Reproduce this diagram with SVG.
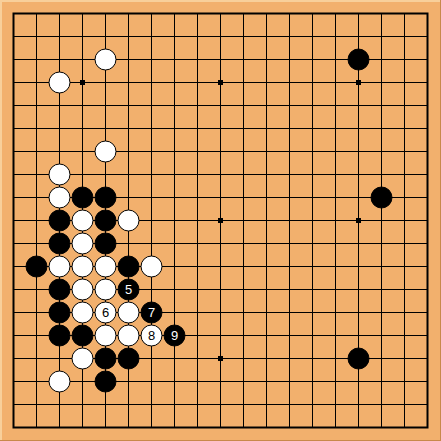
<svg xmlns="http://www.w3.org/2000/svg" width="441" height="441" viewBox="0 0 441 441">
<style>
.g{stroke:#000;stroke-width:1;fill:none}
.b{fill:#000;stroke:#000;stroke-width:1}
.w{fill:#fff;stroke:#000;stroke-width:1}
.tb{fill:#fff;font-family:"Liberation Sans",Arial,sans-serif;font-size:13px;text-anchor:middle}
.tw{fill:#000;font-family:"Liberation Sans",Arial,sans-serif;font-size:13px;text-anchor:middle}
</style>
<rect x="0" y="0" width="441" height="441" fill="#F2B06D"/>
<path d="M0,0H441V441H0Z" fill="none" stroke="#C8884A" stroke-width="2"/>
<path d="M1,440V1H440" fill="none" stroke="#F8CF9A" stroke-width="2"/>
<g id="grid">
<path class="g" d="M13.5,36.5H427.5M13.5,59.5H427.5M13.5,82.5H427.5M13.5,105.5H427.5M13.5,128.5H427.5M13.5,151.5H427.5M13.5,174.5H427.5M13.5,197.5H427.5M13.5,220.5H427.5M13.5,243.5H427.5M13.5,266.5H427.5M13.5,289.5H427.5M13.5,312.5H427.5M13.5,335.5H427.5M13.5,358.5H427.5M13.5,381.5H427.5M13.5,404.5H427.5"/>
<path class="g" d="M36.5,13.5V427.5M59.5,13.5V427.5M82.5,13.5V427.5M105.5,13.5V427.5M128.5,13.5V427.5M151.5,13.5V427.5M174.5,13.5V427.5M197.5,13.5V427.5M220.5,13.5V427.5M243.5,13.5V427.5M266.5,13.5V427.5M289.5,13.5V427.5M312.5,13.5V427.5M335.5,13.5V427.5M358.5,13.5V427.5M381.5,13.5V427.5M404.5,13.5V427.5"/>
<rect x="13.5" y="13.5" width="414" height="414" fill="none" stroke="#000" stroke-width="2"/>
<g fill="#000">
<rect x="80" y="80" width="5" height="5"/><rect x="218" y="80" width="5" height="5"/><rect x="356" y="80" width="5" height="5"/>
<rect x="80" y="218" width="5" height="5"/><rect x="218" y="218" width="5" height="5"/><rect x="356" y="218" width="5" height="5"/>
<rect x="80" y="356" width="5" height="5"/><rect x="218" y="356" width="5" height="5"/><rect x="356" y="356" width="5" height="5"/>
</g>
</g>
<g id="stones">
<circle class="w" cx="105.5" cy="59.5" r="10.5"/>
<circle class="w" cx="59.5" cy="82.5" r="10.5"/>
<circle class="b" cx="358.5" cy="59.5" r="10.5"/>
<circle class="w" cx="105.5" cy="151.5" r="10.5"/>
<circle class="w" cx="59.5" cy="174.5" r="10.5"/>
<circle class="w" cx="59.5" cy="197.5" r="10.5"/>
<circle class="b" cx="82.5" cy="197.5" r="10.5"/>
<circle class="b" cx="105.5" cy="197.5" r="10.5"/>
<circle class="b" cx="381.5" cy="197.5" r="10.5"/>
<circle class="b" cx="59.5" cy="220.5" r="10.5"/>
<circle class="w" cx="82.5" cy="220.5" r="10.5"/>
<circle class="b" cx="105.5" cy="220.5" r="10.5"/>
<circle class="w" cx="128.5" cy="220.5" r="10.5"/>
<circle class="b" cx="59.5" cy="243.5" r="10.5"/>
<circle class="w" cx="82.5" cy="243.5" r="10.5"/>
<circle class="b" cx="105.5" cy="243.5" r="10.5"/>
<circle class="b" cx="36.5" cy="266.5" r="10.5"/>
<circle class="w" cx="59.5" cy="266.5" r="10.5"/>
<circle class="w" cx="82.5" cy="266.5" r="10.5"/>
<circle class="w" cx="105.5" cy="266.5" r="10.5"/>
<circle class="b" cx="128.5" cy="266.5" r="10.5"/>
<circle class="w" cx="151.5" cy="266.5" r="10.5"/>
<circle class="b" cx="59.5" cy="289.5" r="10.5"/>
<circle class="w" cx="82.5" cy="289.5" r="10.5"/>
<circle class="w" cx="105.5" cy="289.5" r="10.5"/>
<circle class="b" cx="59.5" cy="312.5" r="10.5"/>
<circle class="w" cx="82.5" cy="312.5" r="10.5"/>
<circle class="w" cx="128.5" cy="312.5" r="10.5"/>
<circle class="b" cx="59.5" cy="335.5" r="10.5"/>
<circle class="b" cx="82.5" cy="335.5" r="10.5"/>
<circle class="w" cx="105.5" cy="335.5" r="10.5"/>
<circle class="w" cx="128.5" cy="335.5" r="10.5"/>
<circle class="w" cx="82.5" cy="358.5" r="10.5"/>
<circle class="b" cx="105.5" cy="358.5" r="10.5"/>
<circle class="b" cx="128.5" cy="358.5" r="10.5"/>
<circle class="b" cx="358.5" cy="358.5" r="10.5"/>
<circle class="w" cx="59.5" cy="381.5" r="10.5"/>
<circle class="b" cx="105.5" cy="381.5" r="10.5"/>
</g>
<g id="move5"><circle class="b" cx="128.5" cy="289.5" r="10.5"/><text class="tb" x="128.5" y="294">5</text></g>
<g id="move6"><circle class="w" cx="105.5" cy="312.5" r="10.5"/><text class="tw" x="105.5" y="317">6</text></g>
<g id="move7"><circle class="b" cx="151.5" cy="312.5" r="10.5"/><text class="tb" x="151.5" y="317">7</text></g>
<g id="move8"><circle class="w" cx="151.5" cy="335.5" r="10.5"/><text class="tw" x="151.5" y="340">8</text></g>
<g id="move9"><circle class="b" cx="174.5" cy="335.5" r="10.5"/><text class="tb" x="174.5" y="340">9</text></g>
</svg>
